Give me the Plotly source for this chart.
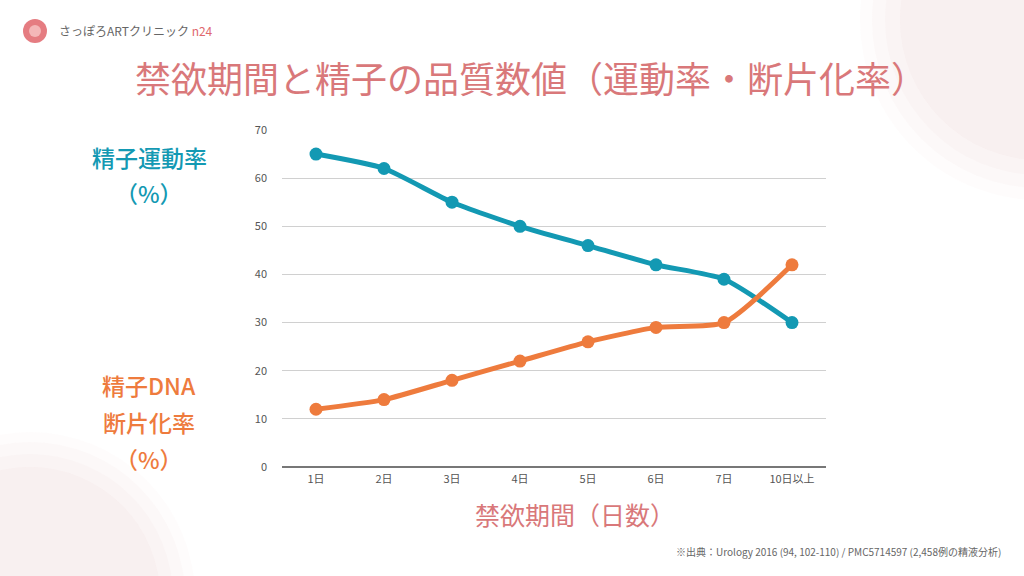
import plotly.graph_objects as go

categories = ["1日", "2日", "3日", "4日", "5日", "6日", "7日", "10日以上"]
motility = [65, 62, 55, 50, 46, 42, 39, 30]
dfi = [12, 14, 18, 22, 26, 29, 30, 42]
y_ticks = [0, 10, 20, 30, 40, 50, 60, 70]

TEAL = "#1399b3"
ORANGE = "#ee7b3d"
PINK = "#d9787a"
FONT = "Noto Sans CJK JP"

fig = go.Figure()
fig.add_trace(go.Scatter(x=categories, y=motility, mode="lines+markers",
                         line=dict(color=TEAL, width=5, shape="spline", smoothing=0.6),
                         marker=dict(color=TEAL, size=13), name="精子運動率"))
fig.add_trace(go.Scatter(x=categories, y=dfi, mode="lines+markers",
                         line=dict(color=ORANGE, width=5, shape="spline", smoothing=0.6),
                         marker=dict(color=ORANGE, size=13), name="精子DNA断片化率"))

W, H = 1024, 576
L, R, T, B = 282, 198, 130, 109
PW, PH = W - L - R, H - T - B
fig.update_layout(
    width=W, height=H, autosize=False,
    margin=dict(l=L, r=R, t=T, b=B),
    paper_bgcolor="white", plot_bgcolor="rgba(0,0,0,0)",
    showlegend=False,
    font=dict(family=FONT, color="#555555"),
    xaxis=dict(type="category", range=[-0.5, 7.5], showgrid=False, zeroline=False,
               showline=False, ticks="", tickfont=dict(size=11, color="#555555"),
               ticklabelstandoff=4),
    yaxis=dict(range=[0, 70], tickvals=y_ticks, showgrid=True, gridcolor="#d0d0d0",
               gridwidth=1, zeroline=True, zerolinecolor="#777777", zerolinewidth=1.5,
               showline=False, ticks="", tickfont=dict(size=11, color="#555555"),
               ticklabelstandoff=14),
)

annotations = []
def txt(x, y, text, size, color, anchor="center", weight="normal"):
    annotations.append(dict(x=(x - L) / PW, y=(H - B - y) / PH,
                            xref="paper", yref="paper", text=text, showarrow=False,
                            xanchor=anchor, yanchor="middle",
                            font=dict(size=size, color=color, family=FONT, weight=weight)))

shapes = []
def circ(cx, cy, r, color):
    shapes.append(dict(type="circle", xref="paper", yref="paper",
                       x0=(cx - r - L) / PW, x1=(cx + r - L) / PW,
                       y0=(H - B - (cy + r)) / PH, y1=(H - B - (cy - r)) / PH,
                       fillcolor=color, line=dict(width=0), layer="below"))

# soft decorative blotches
for r, a in [(180, 0.06), (168, 0.07), (155, 0.08), (140, 0.09)]:
    circ(1040, 20, r, f"rgba(232,200,200,{a})")
for r, a in [(165, 0.06), (155, 0.07), (143, 0.08), (130, 0.09)]:
    circ(30, 597, r, f"rgba(232,200,200,{a})")
# logo mark
circ(35, 31, 12, "rgba(226,110,115,0.9)")
circ(35, 31, 6, "rgba(245,190,190,0.9)")

txt(57, 31, "さっぽろARTクリニック<span style='color:#e0686e'> n24</span>", 12, "#666666", anchor="left")
txt(531, 77, "禁欲期間と精子の品質数値（運動率・断片化率）", 36, PINK)
txt(149, 157, "精子運動率", 23, TEAL, weight=500)
txt(149, 193, "（%）", 23, TEAL, weight=500)
txt(149, 385, "精子DNA", 23, ORANGE, weight=500)
txt(149, 422, "断片化率", 23, ORANGE, weight=500)
txt(149, 459, "（%）", 23, ORANGE, weight=500)
txt(575, 514, "禁欲期間（日数）", 25, PINK)
txt(1003, 551, "※出典：Urology 2016 (94, 102-110) / PMC5714597 (2,458例の精液分析)", 10, "#666666", anchor="right")

fig.update_layout(annotations=annotations, shapes=shapes)
fig.write_html("out.html")
